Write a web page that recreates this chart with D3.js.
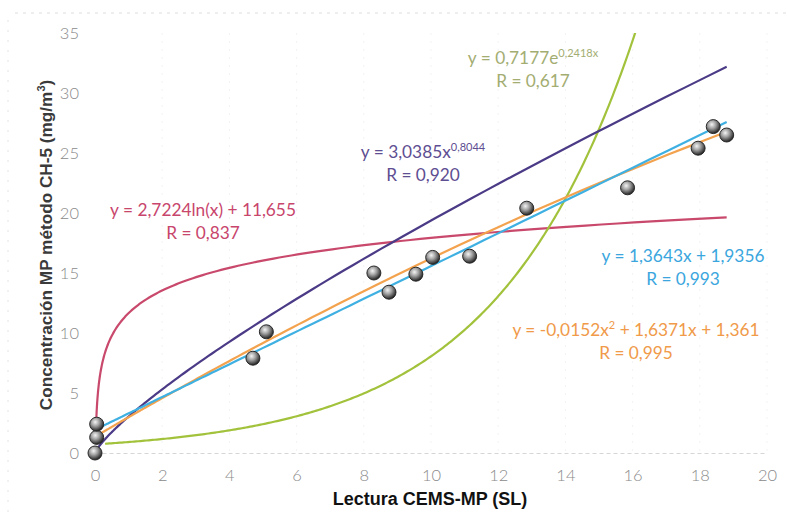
<!DOCTYPE html>
<html><head><meta charset="utf-8">
<script src="https://cdn.jsdelivr.net/npm/d3@7"></script>
<style>body{margin:0;background:#fff}svg{display:block}</style>
</head><body>
<script>
// Data
const xVals = [0, 0.05, 0.05, 4.7, 5.1, 8.3, 8.75, 9.55, 10.05, 11.15, 12.85, 15.85, 17.95, 18.4, 18.8];
const yVals = [0, 1.3, 2.4, 7.9, 10.1, 15.0, 13.4, 14.9, 16.3, 16.4, 20.4, 22.1, 25.4, 27.2, 26.5];
const xTicks = [0, 2, 4, 6, 8, 10, 12, 14, 16, 18, 20];
const yTicks = [0, 5, 10, 15, 20, 25, 30, 35];
// trendline coefficients (as printed on chart)
const linCoef = [1.3643, 1.9356];
const polyCoef = [-0.0152, 1.6371, 1.361];
const powCoef = [3.0385, 0.8044];
const logCoef = [2.7224, 11.655];
const expCoef = [0.7177, 0.2418];

const W = 787, H = 530;
const svg = d3.select("body").append("svg").attr("width", W).attr("height", H);
const x = d3.scaleLinear().domain([0, 20]).range([95, 767]);
const y = d3.scaleLinear().domain([0, 35]).range([453, 33]);

const defs = svg.append("defs");
const g = defs.append("radialGradient").attr("id", "ball").attr("cx", "40%").attr("cy", "35%").attr("r", "65%");
g.append("stop").attr("offset", "0%").attr("stop-color", "#f4f4f4");
g.append("stop").attr("offset", "45%").attr("stop-color", "#a0a0a0");
g.append("stop").attr("offset", "100%").attr("stop-color", "#222");
defs.append("clipPath").attr("id", "plot").append("rect")
  .attr("x", 85).attr("y", 33).attr("width", 700).attr("height", 440);

// faint scan border lines
svg.append("line").attr("x1", 15).attr("x2", 787).attr("y1", 13).attr("y2", 13)
  .attr("stroke", "#ddd").attr("stroke-dasharray", "3,5").attr("stroke-width", 1);
svg.append("line").attr("x1", 8).attr("x2", 8).attr("y1", 20).attr("y2", 520)
  .attr("stroke", "#e4e4e4").attr("stroke-dasharray", "2,8").attr("stroke-width", 1);

// faint vertical gridlines
svg.append("g").selectAll("line").data(xTicks.slice(1)).join("line")
  .attr("x1", d => x(d)).attr("x2", d => x(d)).attr("y1", y(35)).attr("y2", y(0))
  .attr("stroke", "#f3f3f3").attr("stroke-dasharray", "2,6");

// axes
const fontTick = "Lato, 'Open Sans', sans-serif";
const xAxis = svg.append("g").attr("transform", `translate(0,${y(0)})`)
  .call(d3.axisBottom(x).tickValues(xTicks).tickSize(0).tickPadding(16));
xAxis.select(".domain").attr("stroke", "#d6d6d6").attr("stroke-dasharray", "4,3");
xAxis.selectAll("text").attr("font-family", fontTick).attr("font-size", 16.5).attr("fill", "#8a8a8a").attr("font-weight", 300);
const yAxis = svg.append("g").attr("transform", `translate(${x(0)},0)`)
  .call(d3.axisLeft(y).tickValues(yTicks).tickSize(0).tickPadding(16));
yAxis.select(".domain").remove();
yAxis.selectAll("text").attr("font-family", fontTick).attr("font-size", 16.5).attr("fill", "#8a8a8a").attr("font-weight", 300);

// axis titles
svg.append("text").attr("x", 430).attr("y", 505).attr("text-anchor", "middle")
  .attr("font-family", "'Liberation Sans', Arial, sans-serif").attr("font-weight", "bold")
  .attr("font-size", 18).attr("fill", "#111").text("Lectura CEMS-MP (SL)");
const yt = svg.append("text").attr("transform", "translate(52,245) rotate(-90)").attr("text-anchor", "middle")
  .attr("font-family", "'Liberation Sans', Arial, sans-serif").attr("font-weight", "bold")
  .attr("font-size", 17.2).attr("fill", "#3a3a3a");
yt.append("tspan").text("Concentración MP método CH-5 (mg/m");
yt.append("tspan").attr("font-size", 11).attr("dy", -7).text("3");
yt.append("tspan").attr("dy", 7).text(")");

// trendlines
const plot = svg.append("g").attr("clip-path", "url(#plot)");
function sample(a, b, n) { return d3.range(n + 1).map(i => a + (b - a) * i / n); }
const line = d3.line().x(d => x(d[0])).y(d => y(d[1])).curve(d3.curveLinear);
const xmax = 18.8;
const trends = [
  {c: "#c9496c", f: t => logCoef[0] * Math.log(t) + logCoef[1], a: 0.035},
  {c: "#a2c23c", f: t => expCoef[0] * Math.exp(expCoef[1] * t), a: 0.3},
  {c: "#4b3a86", f: t => powCoef[0] * Math.pow(t, powCoef[1]), a: 0.02},
  {c: "#f3a24e", f: t => polyCoef[0] * t * t + polyCoef[1] * t + polyCoef[2], a: 0.03},
  {c: "#3fb0e2", f: t => linCoef[0] * t + linCoef[1], a: 0.03}
];
trends.forEach(tr => {
  const xs = tr.a < 0.1 ? d3.range(0, 200).map(i => tr.a * Math.pow(xmax / tr.a, i / 199)) : sample(tr.a, xmax, 300);
  plot.append("path").datum(xs.map(t => [t, tr.f(t)])).attr("d", line)
    .attr("fill", "none").attr("stroke", tr.c).attr("stroke-width", 2.2);
});

// points
const pts = xVals.map((v, i) => [v, yVals[i]]);
svg.append("g").selectAll("circle").data(pts).join("circle")
  .attr("cx", d => x(d[0])).attr("cy", d => y(d[1])).attr("r", 7)
  .attr("fill", "url(#ball)").attr("stroke", "#2a2a2a").attr("stroke-width", 1);

// equation labels
const eqFont = "Lato, 'Open Sans', sans-serif";
function label(cx, cy, color, parts, r) {
  const t = svg.append("text").attr("x", cx).attr("y", cy).attr("text-anchor", "middle")
    .attr("font-family", eqFont).attr("font-size", 17.3).attr("fill", color);
  parts.forEach(p => {
    const s = t.append("tspan").text(p.t);
    if (p.sup) s.attr("font-size", 11).attr("dy", -7);
    if (p.down) s.attr("dy", 7);
  });
  svg.append("text").attr("x", cx).attr("y", cy + 23).attr("text-anchor", "middle")
    .attr("font-family", eqFont).attr("font-size", 17.3).attr("fill", color).text(r);
}
label(533, 64, "#a3ad72", [{t: "y = 0,7177e"}, {t: "0,2418x", sup: true}], "R = 0,617");
label(423, 158, "#5e4e92", [{t: "y = 3,0385x"}, {t: "0,8044", sup: true}], "R = 0,920");
label(203, 216, "#c8456c", [{t: "y = 2,7224ln(x) + 11,655"}], "R = 0,837");
label(683, 262, "#3ba6de", [{t: "y = 1,3643x + 1,9356"}], "R = 0,993");
label(636, 336, "#f09a4a", [{t: "y = -0,0152x"}, {t: "2", sup: true}, {t: " + 1,6371x + 1,361", down: true}], "R = 0,995");
</script>
</body></html>
